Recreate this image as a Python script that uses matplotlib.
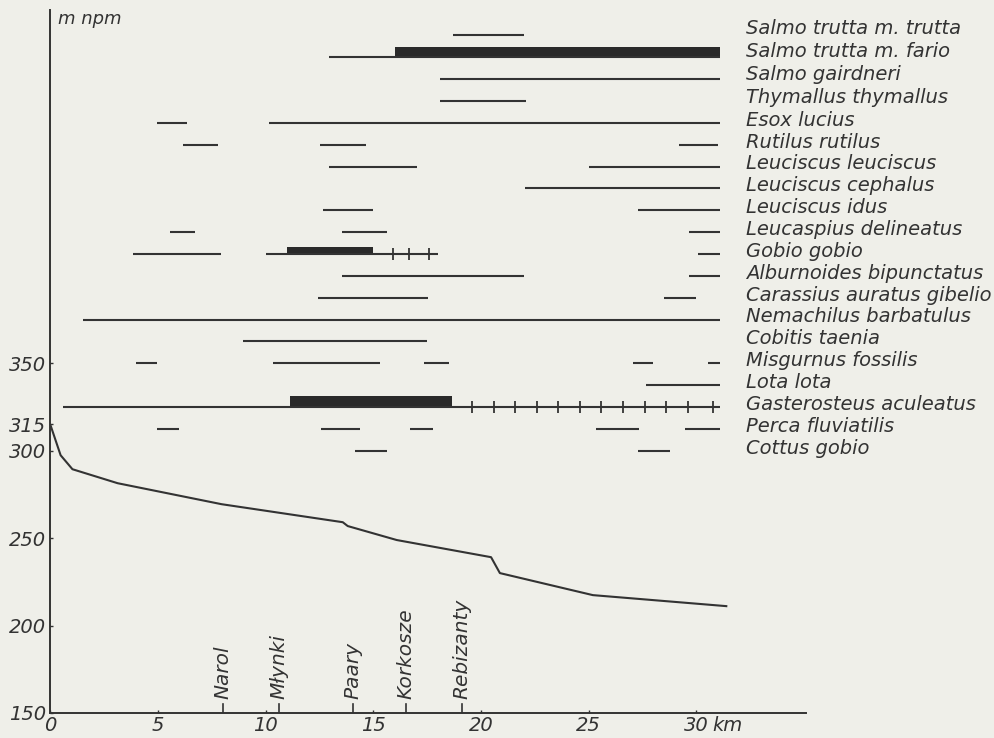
import matplotlib
matplotlib.use("Agg")
import matplotlib.pyplot as plt

# ---------------- data ----------------
species = [
    "Salmo trutta m. trutta", "Salmo trutta m. fario", "Salmo gairdneri",
    "Thymallus thymallus", "Esox lucius", "Rutilus rutilus",
    "Leuciscus leuciscus", "Leuciscus cephalus", "Leuciscus idus",
    "Leucaspius delineatus", "Gobio gobio", "Alburnoides bipunctatus",
    "Carassius auratus gibelio", "Nemachilus barbatulus", "Cobitis taenia",
    "Misgurnus fossilis", "Lota lota", "Gasterosteus aculeatus",
    "Perca fluviatilis", "Cottus gobio",
]

# occurrence ranges (km from source), thin lines
ranges = [
    [(18.7, 22.0)],
    [(12.95, 31.1)],
    [(18.1, 31.1)],
    [(18.1, 22.1)],
    [(4.95, 6.35), (10.15, 31.1)],
    [(6.15, 7.8), (12.5, 14.65), (29.2, 31.0)],
    [(12.95, 17.05), (25.0, 31.1)],
    [(22.05, 31.1)],
    [(12.65, 15.0), (27.3, 31.1)],
    [(5.55, 6.7), (13.55, 15.65), (29.65, 31.1)],
    [(3.85, 7.9), (10.0, 18.0), (30.1, 31.1)],
    [(13.55, 22.0), (29.65, 31.1)],
    [(12.45, 17.55), (28.5, 30.0)],
    [(1.5, 31.1)],
    [(8.95, 17.5)],
    [(3.95, 4.95), (10.35, 15.3), (17.35, 18.5), (27.05, 28.0), (30.55, 31.1)],
    [(27.65, 31.1)],
    [(0.6, 31.1)],
    [(4.95, 5.95), (12.55, 14.4), (16.7, 17.75), (25.35, 27.35), (29.5, 31.1)],
    [(14.15, 15.65), (27.3, 28.8)],
]

# mass occurrence (thick bars): species name -> (start km, end km)
abundant = {
    "Salmo trutta m. fario": (16.0, 31.1),
    "Gobio gobio": (11.0, 15.0),
    "Gasterosteus aculeatus": (11.15, 18.65),
}

# single finds (ticks on the line)
single_finds = {
    "Gobio gobio": [15.9, 16.65, 17.6],
    "Gasterosteus aculeatus": [19.6, 20.6, 21.6, 22.6, 23.6, 24.6, 25.6,
                               26.6, 27.6, 28.6, 29.6, 30.8],
}

# longitudinal river profile
profile_km = [0.0, 0.47, 1.02, 3.12, 7.95, 13.58, 13.81, 16.09, 20.47, 20.88, 25.2, 31.4]
profile_m = [314.6, 297.4, 289.4, 281.4, 269.4, 259.1, 256.9, 248.9, 239.1, 230.0, 217.4, 211.1]

villages = ["Narol", "Młynki", "Paary", "Korkosze", "Rebizanty"]
village_km = [8.0, 10.6, 14.05, 16.5, 19.1]

xticks = [0, 5, 10, 15, 20, 25, 30]
xticklabels = ["0", "5", "10", "15", "20", "25", "30"]
yticks = [150, 200, 250, 300, 315, 350]

# ---------------- style ----------------
BG = "#efefe9"
INK = "#333333"
plt.rcParams["font.family"] = ["DejaVu Sans"]

fig = plt.figure(figsize=(9.94, 7.38), dpi=100, facecolor=BG)
ax = fig.add_axes([0.0508, 0.0339, 0.760, 0.9525])
ax.set_facecolor(BG)
ax.set_xlim(0, 35.1)
ax.set_ylim(150, 552)

for s in ("top", "right"):
    ax.spines[s].set_visible(False)
for s in ("left", "bottom"):
    ax.spines[s].set_color(INK)
    ax.spines[s].set_linewidth(1.4)

ax.set_xticks(xticks)
ax.set_xticklabels(xticklabels, fontsize=14, style="italic", color=INK)
ax.set_yticks(yticks)
ax.set_yticklabels([str(v) for v in yticks], fontsize=14, style="italic", color=INK)
ax.tick_params(axis="both", direction="in", length=2, width=1, color=INK, pad=3)
ax.tick_params(axis="x", pad=2)

ax.annotate("km", xy=(30.75, 150), xytext=(0, -2), textcoords="offset points",
            fontsize=14, style="italic", color=INK, ha="left", va="top")
ax.text(0.35, 552, "m npm", fontsize=13, style="italic", color=INK,
        ha="left", va="top")

# rows
n = len(species)
row_y = [300 + 12.5 * (n - 1 - i) for i in range(n)]
label_x = 32.3
for i, name in enumerate(species):
    y = row_y[i]
    for a, b in ranges[i]:
        ax.plot([a, b], [y, y], color=INK, lw=1.5, solid_capstyle="butt")
    if name in abundant:
        a, b = abundant[name]
        h = 4.2 if name == "Gobio gobio" else 6.0
        ax.barh(y, b - a, left=a, height=h, align="edge", color="#2a2a2a",
                edgecolor="none")
    if name in single_finds:
        xs = single_finds[name]
        ax.plot(xs, [y] * len(xs), ls="none", marker="|", markersize=8,
                markeredgewidth=1.3, color=INK)
    ax.text(label_x, y + 1.5 + 2.5 * max(0, 4 - i) / 4, name, fontsize=14,
            style="italic", color=INK, ha="left", va="center")

# profile
ax.plot(profile_km, profile_m, color=INK, lw=1.5)

# villages
for name, k in zip(villages, village_km):
    ax.plot([k, k], [150, 155], color=INK, lw=1.2)
    ax.text(k, 158, name, rotation=90, fontsize=14.5, style="italic", color=INK,
            ha="center", va="bottom")

fig.savefig("out.png", dpi=100, facecolor=BG)
